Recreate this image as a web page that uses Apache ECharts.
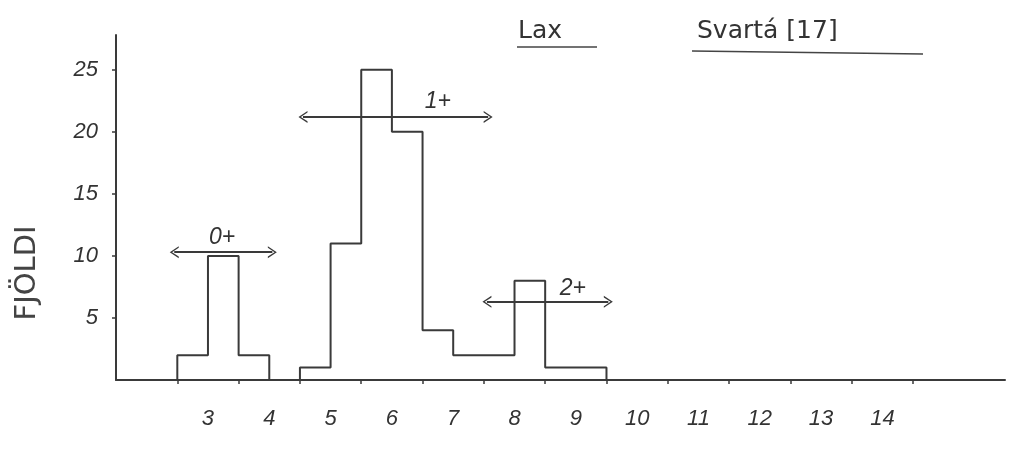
<!DOCTYPE html>
<html>
<head>
<meta charset="utf-8">
<script src="https://cdn.jsdelivr.net/npm/echarts@6/dist/echarts.min.js"></script>
<style>
  html, body { margin: 0; padding: 0; background: #ffffff; }
  #chart { width: 1010px; height: 450px; }
</style>
</head>
<body>
<div id="chart"></div>
<script>
// Length classes (half-cm bins), left edges
var binStarts = [3.0, 3.5, 4.0, 4.5, 5.0, 5.5, 6.0, 6.5, 7.0, 7.5, 8.0, 8.5, 9.0, 9.5];
// Number of fish per bin (FJÖLDI)
var counts = [2, 10, 2, 0, 1, 11, 25, 20, 4, 2, 2, 8, 1, 1];
var binWidth = 0.5;

// x-axis tick positions and labels (labels centred in each 1-cm class)
var xTickValues = [3, 4, 5, 6, 7, 8, 9, 10, 11, 12, 13, 14, 15];
var xLabels = ['3', '4', '5', '6', '7', '8', '9', '10', '11', '12', '13', '14'];
var yTickValues = [5, 10, 15, 20, 25];

// Age-group annotations
var ageGroups = ['0+', '1+', '2+'];
var arrowStart = [2.95, 5.05, 8.05];
var arrowEnd = [4.55, 8.07, 10.03];
var arrowLevel = [10.3, 21.2, 6.3];
var ageLabelX = [3.73, 7.25, 9.45];
var ageLabelY = [11.5, 22.4, 7.4];

var ink = '#3a3a3a';
var handFont = 'Liberation Sans';

// stepped outline points built from the bins
var outline = [[binStarts[0], 0]];
for (var i = 0; i < binStarts.length; i++) {
  outline.push([binStarts[i], counts[i]]);
}
outline.push([binStarts[binStarts.length - 1] + binWidth, 0]);

var labelCenters = xLabels.map(function (l, i) { return xTickValues[i] + 0.5; });

var chevron = 'path://M5,0 L10,10 L8.6,10 L5,2.6 L1.4,10 L0,10 Z';

var arrowData = ageGroups.map(function (g, i) {
  return [
    { coord: [arrowStart[i], arrowLevel[i]] },
    { coord: [arrowEnd[i], arrowLevel[i]] }
  ];
});

var chart = echarts.init(document.getElementById('chart'), null, { renderer: 'canvas' });
chart.setOption({
  backgroundColor: '#ffffff',
  animation: false,
  grid: { left: 116, right: 5, top: 35, bottom: 70 },
  xAxis: {
    type: 'value',
    min: 2,
    max: 16.5,
    splitLine: { show: false },
    axisLine: { show: true, onZero: false, lineStyle: { color: ink, width: 2 } },
    axisTick: {
      show: true, length: 4, inside: false,
      customValues: xTickValues,
      lineStyle: { color: ink, width: 1.5 }
    },
    axisLabel: {
      show: true,
      customValues: labelCenters,
      margin: 28,
      fontFamily: handFont,
      fontStyle: 'italic',
      fontSize: 22,
      color: '#333',
      formatter: function (v) {
        var idx = Math.round(v - 3.5);
        return xLabels[idx] !== undefined ? xLabels[idx] : '';
      }
    }
  },
  yAxis: {
    type: 'value',
    min: 0,
    max: 27.8,
    splitLine: { show: false },
    axisLine: { show: true, lineStyle: { color: ink, width: 2 } },
    axisTick: {
      show: true, length: 4,
      customValues: yTickValues,
      lineStyle: { color: ink, width: 1.5 }
    },
    axisLabel: {
      show: true,
      customValues: yTickValues,
      margin: 18,
      fontFamily: handFont,
      fontStyle: 'italic',
      fontSize: 22,
      color: '#333'
    }
  },
  graphic: [
    {
      type: 'text',
      x: 27, y: 273,
      rotation: Math.PI / 2,
      style: {
        text: 'FJÖLDI',
        font: '29px "DejaVu Sans"',
        fill: '#444',
        align: 'center',
        verticalAlign: 'middle'
      }
    },
    {
      type: 'text',
      x: 518, y: 31,
      style: { text: 'Lax', font: '25px "DejaVu Sans"', fill: '#333', align: 'left', verticalAlign: 'middle' }
    },
    {
      type: 'line',
      shape: { x1: 517, y1: 47, x2: 597, y2: 47 },
      style: { stroke: '#444', lineWidth: 1.5 }
    },
    {
      type: 'text',
      x: 697, y: 31,
      style: { text: 'Svartá [17]', font: '25px "DejaVu Sans"', fill: '#333', align: 'left', verticalAlign: 'middle' }
    },
    {
      type: 'line',
      shape: { x1: 692, y1: 51, x2: 923, y2: 54 },
      style: { stroke: '#444', lineWidth: 1.5 }
    }
  ],
  series: [
    {
      name: 'FJÖLDI',
      type: 'line',
      step: 'end',
      data: outline,
      symbol: 'none',
      lineStyle: { color: ink, width: 2 },
      z: 3
    },
    {
      name: 'ageArrows',
      type: 'line',
      data: [],
      markLine: {
        silent: true,
        symbol: [chevron, chevron],
        symbolSize: [12, 9],
        lineStyle: { color: ink, width: 2, type: 'solid' },
        label: { show: false },
        emphasis: { disabled: true },
        data: arrowData
      }
    },
    {
      name: 'ageLabels',
      type: 'scatter',
      symbolSize: 0,
      itemStyle: { opacity: 1 },
      data: ageGroups.map(function (g, i) { return { name: g, value: [ageLabelX[i], ageLabelY[i]] }; }),
      label: {
        show: true,
        position: 'inside',
        formatter: '{b}',
        fontFamily: handFont,
        fontStyle: 'italic',
        fontSize: 23,
        color: '#333',
        opacity: 1
      },
      silent: true
    }
  ]
});
</script>
</body>
</html>
